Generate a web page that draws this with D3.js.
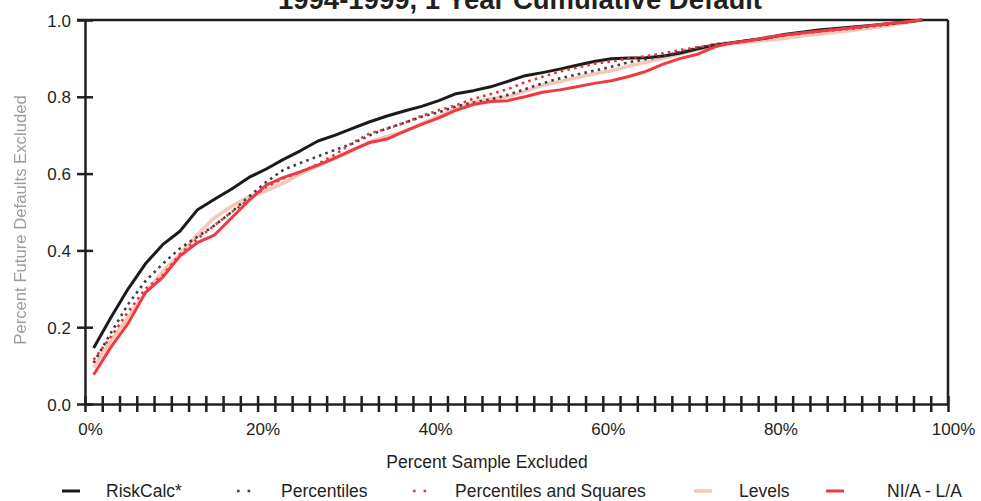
<!DOCTYPE html>
<html>
<head>
<meta charset="utf-8">
<script src="https://cdn.jsdelivr.net/npm/d3@7"></script>
<style>
  html, body { margin: 0; padding: 0; background: #fff; }
  svg { display: block; }
  text { font-family: "Liberation Sans", Arial, sans-serif; fill: #231f20; }
</style>
</head>
<body>
<svg id="chart" width="981" height="501"></svg>
<script>
// ---- data ----
const xPercent = [1,3,5,7,9,11,13,15,17,19,21,23,25,27,29,31,33,35,37,39,41,43,45,47,49,51,53,55,57,59,61,63,65,67,69,71,73,75,77,79,81,83,85,87,89,91,93,95,97];
const riskCalc = [0.146,0.225,0.30,0.365,0.415,0.45,0.505,0.533,0.56,0.59,0.612,0.637,0.66,0.685,0.70,0.718,0.735,0.75,0.763,0.775,0.79,0.808,0.816,0.826,0.84,0.855,0.863,0.872,0.882,0.892,0.899,0.901,0.902,0.906,0.914,0.925,0.935,0.941,0.947,0.953,0.962,0.968,0.974,0.978,0.982,0.986,0.99,0.995,1.0];
const percentiles = [0.107,0.185,0.26,0.32,0.365,0.405,0.435,0.465,0.50,0.54,0.578,0.61,0.628,0.645,0.662,0.678,0.70,0.718,0.732,0.748,0.76,0.775,0.785,0.793,0.805,0.82,0.835,0.848,0.858,0.868,0.878,0.89,0.898,0.906,0.917,0.928,0.937,0.942,0.948,0.954,0.96,0.965,0.97,0.974,0.978,0.983,0.988,0.994,1.0];
const pctSquares = [0.115,0.175,0.24,0.30,0.335,0.39,0.43,0.465,0.50,0.532,0.565,0.587,0.605,0.625,0.65,0.68,0.705,0.717,0.732,0.75,0.765,0.778,0.795,0.807,0.82,0.838,0.852,0.866,0.876,0.886,0.892,0.90,0.906,0.913,0.922,0.929,0.935,0.941,0.947,0.953,0.96,0.966,0.971,0.976,0.98,0.985,0.99,0.995,1.0];
const levels = [0.095,0.165,0.225,0.29,0.345,0.39,0.44,0.485,0.515,0.54,0.555,0.575,0.60,0.62,0.64,0.66,0.683,0.697,0.71,0.73,0.75,0.77,0.785,0.795,0.80,0.815,0.83,0.84,0.85,0.86,0.868,0.88,0.89,0.90,0.912,0.923,0.933,0.938,0.943,0.947,0.952,0.958,0.963,0.968,0.973,0.979,0.985,0.992,1.0];
const niaLa = [0.076,0.148,0.21,0.29,0.33,0.385,0.42,0.44,0.485,0.53,0.57,0.59,0.605,0.622,0.641,0.662,0.681,0.69,0.71,0.728,0.745,0.765,0.78,0.788,0.79,0.80,0.812,0.818,0.826,0.835,0.842,0.853,0.866,0.885,0.90,0.911,0.93,0.941,0.946,0.955,0.961,0.966,0.971,0.975,0.98,0.985,0.99,0.995,1.0];

const seriesNames = ["RiskCalc*", "Percentiles", "Percentiles and Squares", "Levels", "NI/A - L/A"];
const yTickLabels = ["0.0","0.2","0.4","0.6","0.8","1.0"];
const xTickLabels = ["0%","20%","40%","60%","80%","100%"];
const titleText = "1994-1999, 1 Year Cumulative Default";
const xTitle = "Percent Sample Excluded";
const yTitle = "Percent Future Defaults Excluded";

// ---- styles ----
const styles = {
  "RiskCalc*": {color: "#1c1a1a", width: 3, dash: null},
  "Percentiles": {color: "#3a4246", width: 2.6, dash: "2.6,4.2"},
  "Percentiles and Squares": {color: "#e8323c", width: 2.6, dash: "2.6,4.2"},
  "Levels": {color: "#f6c6b6", width: 3.5, dash: null},
  "NI/A - L/A": {color: "#ee3a43", width: 3, dash: null}
};
const seriesData = {
  "RiskCalc*": riskCalc,
  "Percentiles": percentiles,
  "Percentiles and Squares": pctSquares,
  "Levels": levels,
  "NI/A - L/A": niaLa
};
const drawOrder = ["Levels", "RiskCalc*", "Percentiles", "Percentiles and Squares", "NI/A - L/A"];

const svg = d3.select("#chart");
const mLeft = 85, mRight = 948, mTop = 20, mBottom = 404;
const x = d3.scaleLinear().domain([0, 100]).range([mLeft, mRight]);
const y = d3.scaleLinear().domain([0, 1]).range([mBottom, mTop]);

const defs = svg.append("defs");
defs.append("filter").attr("id", "blur").append("feGaussianBlur").attr("stdDeviation", 0.7);

// title
svg.append("text")
  .attr("x", 520).attr("y", 9)
  .attr("text-anchor", "middle")
  .style("font-weight", "bold").style("font-size", "27.5px")
  .text(titleText);

// frame: top and right borders
svg.append("line").attr("x1", 77).attr("x2", mRight).attr("y1", y(1)).attr("y2", y(1))
  .attr("stroke", "#231f20").attr("stroke-width", 2.5);
svg.append("line").attr("x1", mRight).attr("x2", mRight).attr("y1", y(1)).attr("y2", y(0))
  .attr("stroke", "#231f20").attr("stroke-width", 2.5);

// y axis
const yAxis = d3.axisLeft(y).tickValues(d3.range(0, 1.01, 0.2)).tickFormat((d, i) => yTickLabels[i]).tickSize(8).tickSizeOuter(0);
const gy = svg.append("g").attr("transform", `translate(${mLeft},0)`).call(yAxis);
gy.select(".domain").attr("stroke", "#231f20").attr("stroke-width", 2.5);
gy.selectAll(".tick line").attr("stroke", "#231f20").attr("stroke-width", 2.5).attr("x1", 8);
gy.selectAll(".tick text").attr("x", -14).attr("dy", "0.36em").style("font-size", "17px").style("font-family", "Liberation Sans, Arial, sans-serif").attr("fill", "#231f20");

// x axis: minor ticks every 2%
const xAxis = d3.axisBottom(x).tickValues(d3.range(0, 100.1, 2)).tickFormat("").tickSize(8).tickSizeOuter(0);
const gx = svg.append("g").attr("transform", `translate(0,${mBottom})`).call(xAxis);
gx.select(".domain").attr("stroke", "#231f20").attr("stroke-width", 2.5);
gx.selectAll(".tick line").attr("stroke", "#231f20").attr("stroke-width", 2.5).attr("y1", -8);

// x labels
const xLab = d3.axisBottom(x).tickValues([0,20,40,60,80,100]).tickFormat((d, i) => xTickLabels[i]).tickSize(0);
const gxl = svg.append("g").attr("transform", `translate(0,${mBottom})`).call(xLab);
gxl.select(".domain").remove();
gxl.selectAll(".tick text").attr("y", 19).attr("dy", "0.71em").attr("dx", 5).style("font-size", "17px").style("font-family", "Liberation Sans, Arial, sans-serif").attr("fill", "#231f20");

// axis titles
svg.append("text").attr("x", 487).attr("y", 468).attr("text-anchor", "middle")
  .style("font-size", "17.5px").text(xTitle);
svg.append("text").attr("transform", "translate(26,220) rotate(-90)").attr("text-anchor", "middle")
  .style("font-size", "16.7px").style("fill", "#9c9c9c").attr("filter", "url(#blur)").text(yTitle);

// lines
const line = d3.line().x((d, i) => x(xPercent[i])).y(d => y(d)).curve(d3.curveLinear);
const plot = svg.append("g");
drawOrder.forEach(name => {
  const s = styles[name];
  plot.append("path")
    .datum(seriesData[name])
    .attr("fill", "none")
    .attr("stroke", s.color)
    .attr("stroke-width", s.width)
    .attr("stroke-dasharray", s.dash)
    .attr("stroke-linejoin", "round")
    .attr("d", line);
});

// legend
const legendX = [62, 237, 413, 694, 826];
const legendTextX = [106, 281, 455, 739, 887];
const legY = 491;
seriesNames.forEach((name, i) => {
  const s = styles[name];
  const g = svg.append("g");
  if (s.dash) {
    g.append("line").attr("x1", legendX[i]).attr("x2", legendX[i] + 16).attr("y1", legY).attr("y2", legY)
      .attr("stroke", s.color).attr("stroke-width", s.width).attr("stroke-dasharray", "2.6,8");
  } else {
    g.append("line").attr("x1", legendX[i]).attr("x2", legendX[i] + 18).attr("y1", legY).attr("y2", legY)
      .attr("stroke", s.color).attr("stroke-width", s.width);
  }
  g.append("text").attr("x", legendTextX[i]).attr("y", legY).attr("dy", "0.36em")
    .style("font-size", "17.5px").text(name);
});
</script>
</body>
</html>
